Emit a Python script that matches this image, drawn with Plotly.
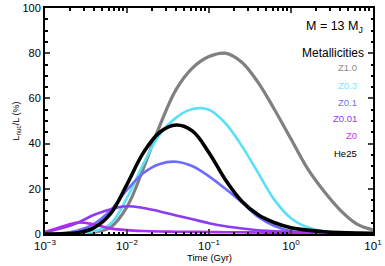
import numpy as np
import plotly.graph_objects as go

logt = [-3.0, -2.8, -2.6, -2.4, -2.2, -2.0, -1.8, -1.6, -1.4, -1.2, -1.0,
        -0.8, -0.6, -0.4, -0.2, 0.0, 0.2, 0.4, 0.6, 0.8, 1.0]

# L_nuc/L (%) for each model
z10_val = [0, 0, 0.2, 0.8, 3, 12, 29, 48, 64, 73.5, 78.5, 80, 76, 67, 55, 42, 29, 19, 10.6, 4.5, 1.8]
z03_val = [0, 0.05, 0.3, 1.2, 4.5, 16, 31, 44, 51.5, 55.3, 55, 49, 39, 27, 15, 7, 3, 1.2, 0.6, 0.4, 0.3]
z01_val = [0, 0.3, 1.5, 4.5, 10.5, 19.5, 27, 31, 32, 30, 25.5, 20, 14, 7.5, 3.5, 1.3, 0.6, 0.35, 0.25, 0.2, 0.15]
z001_val = [0.8, 2.5, 5, 8.5, 11, 12.3, 11.5, 10, 8.2, 6.5, 4.8, 3.4, 2.4, 1.6, 1.2, 0.9, 0.6, 0.5, 0.4, 0.35, 0.3]
z0_val = [0.8, 3.2, 5.1, 4.2, 2.5, 1.7, 1.3, 1.1, 1.0, 0.95, 0.9, 0.8, 0.75, 0.65, 0.6, 0.5, 0.45, 0.4, 0.35, 0.3, 0.3]
he25_val = [0, 0.1, 0.5, 2.8, 9, 22, 36, 45, 48.2, 45.5, 36, 24, 14.5, 8.5, 5, 2.8, 1.7, 1, 0.6, 0.4, 0.3]

x_tickvals = [1e-3, 1e-2, 1e-1, 1e0, 1e1]
x_ticktext = ["10<sup>\u22123</sup>", "10<sup>\u22122</sup>", "10<sup>\u22121</sup>", "10<sup>0</sup>", "10<sup>1</sup>"]
y_tickvals = [0, 20, 40, 60, 80, 100]

series = [
    ("Z1.0", z10_val, "#808080", 3.2, "#8c8c8c"),
    ("Z0.3", z03_val, "#5ce0f8", 2.6, "#7fe6ff"),
    ("Z0.1", z01_val, "#6b6bff", 2.6, "#7373ff"),
    ("Z0.01", z001_val, "#8c3cf0", 2.6, "#9040f0"),
    ("Z0", z0_val, "#b02cf0", 2.6, "#cc3cf0"),
    ("He25", he25_val, "#000000", 3.6, "#000000"),
]

t_gyr = 10 ** np.array(logt)

fig = go.Figure()
for name, v, col, w, _ in series:
    fig.add_trace(go.Scatter(
        x=t_gyr, y=v, mode="lines", name=name,
        line=dict(color=col, width=w, shape="spline", smoothing=1.0),
        showlegend=False, cliponaxis=True, hoverinfo="skip",
    ))

font_family = "Liberation Sans, Arial, sans-serif"

fig.update_layout(
    width=385, height=266,
    margin=dict(l=45, r=12, t=8, b=32),
    paper_bgcolor="white", plot_bgcolor="white",
    font=dict(family=font_family, color="black", size=11),
    xaxis=dict(
        type="log", range=[-3, 1], tickvals=x_tickvals, ticktext=x_ticktext,
        tickfont=dict(size=11.5), ticks="inside", ticklen=5, tickwidth=1.5,
        showline=True, linewidth=2, linecolor="black", mirror="ticks",
        showgrid=False, zeroline=False, automargin=False,
        minor=dict(ticks="inside", ticklen=2.5, dtick="D1", showgrid=False, tickcolor="black"),
    ),
    yaxis=dict(
        range=[0, 100], tickvals=y_tickvals, tickfont=dict(size=11),
        ticks="inside", ticklen=5, tickwidth=1.5,
        showline=True, linewidth=2, linecolor="black", mirror="ticks",
        showgrid=False, zeroline=False, automargin=False,
        minor=dict(ticks="inside", ticklen=2.5, dtick=5, showgrid=False, tickcolor="black"),
        title=dict(text="L<sub>nuc</sub>/L (%)", font=dict(size=9), standoff=1),
    ),
)

fig.add_annotation(xref="paper", yref="paper", x=0.5, y=-0.106, xanchor="center", yanchor="middle",
                   text="Time (Gyr)", showarrow=False, font=dict(size=9.5, color="black"))
fig.add_annotation(xref="paper", yref="paper", x=0.975, y=0.916, xanchor="right", yanchor="middle",
                   text="M = 13 M<sub>J</sub>", showarrow=False, font=dict(size=12.5, color="black"))
fig.add_annotation(xref="paper", yref="paper", x=0.978, y=0.80, xanchor="right", yanchor="middle",
                   text="Metallicities", showarrow=False, font=dict(size=12, color="black"))
ys = [0.735, 0.659, 0.584, 0.509, 0.434, 0.358]
for (name, _, _, _, tcol), yy in zip(series, ys):
    fig.add_annotation(xref="paper", yref="paper", x=0.958, y=yy, xanchor="right", yanchor="middle",
                       text=name, showarrow=False, font=dict(size=9.5, color=tcol))

fig.write_html("out.html", config={"displayModeBar": False},
               post_script="document.body.style.margin='0px';document.body.style.padding='0px';")
